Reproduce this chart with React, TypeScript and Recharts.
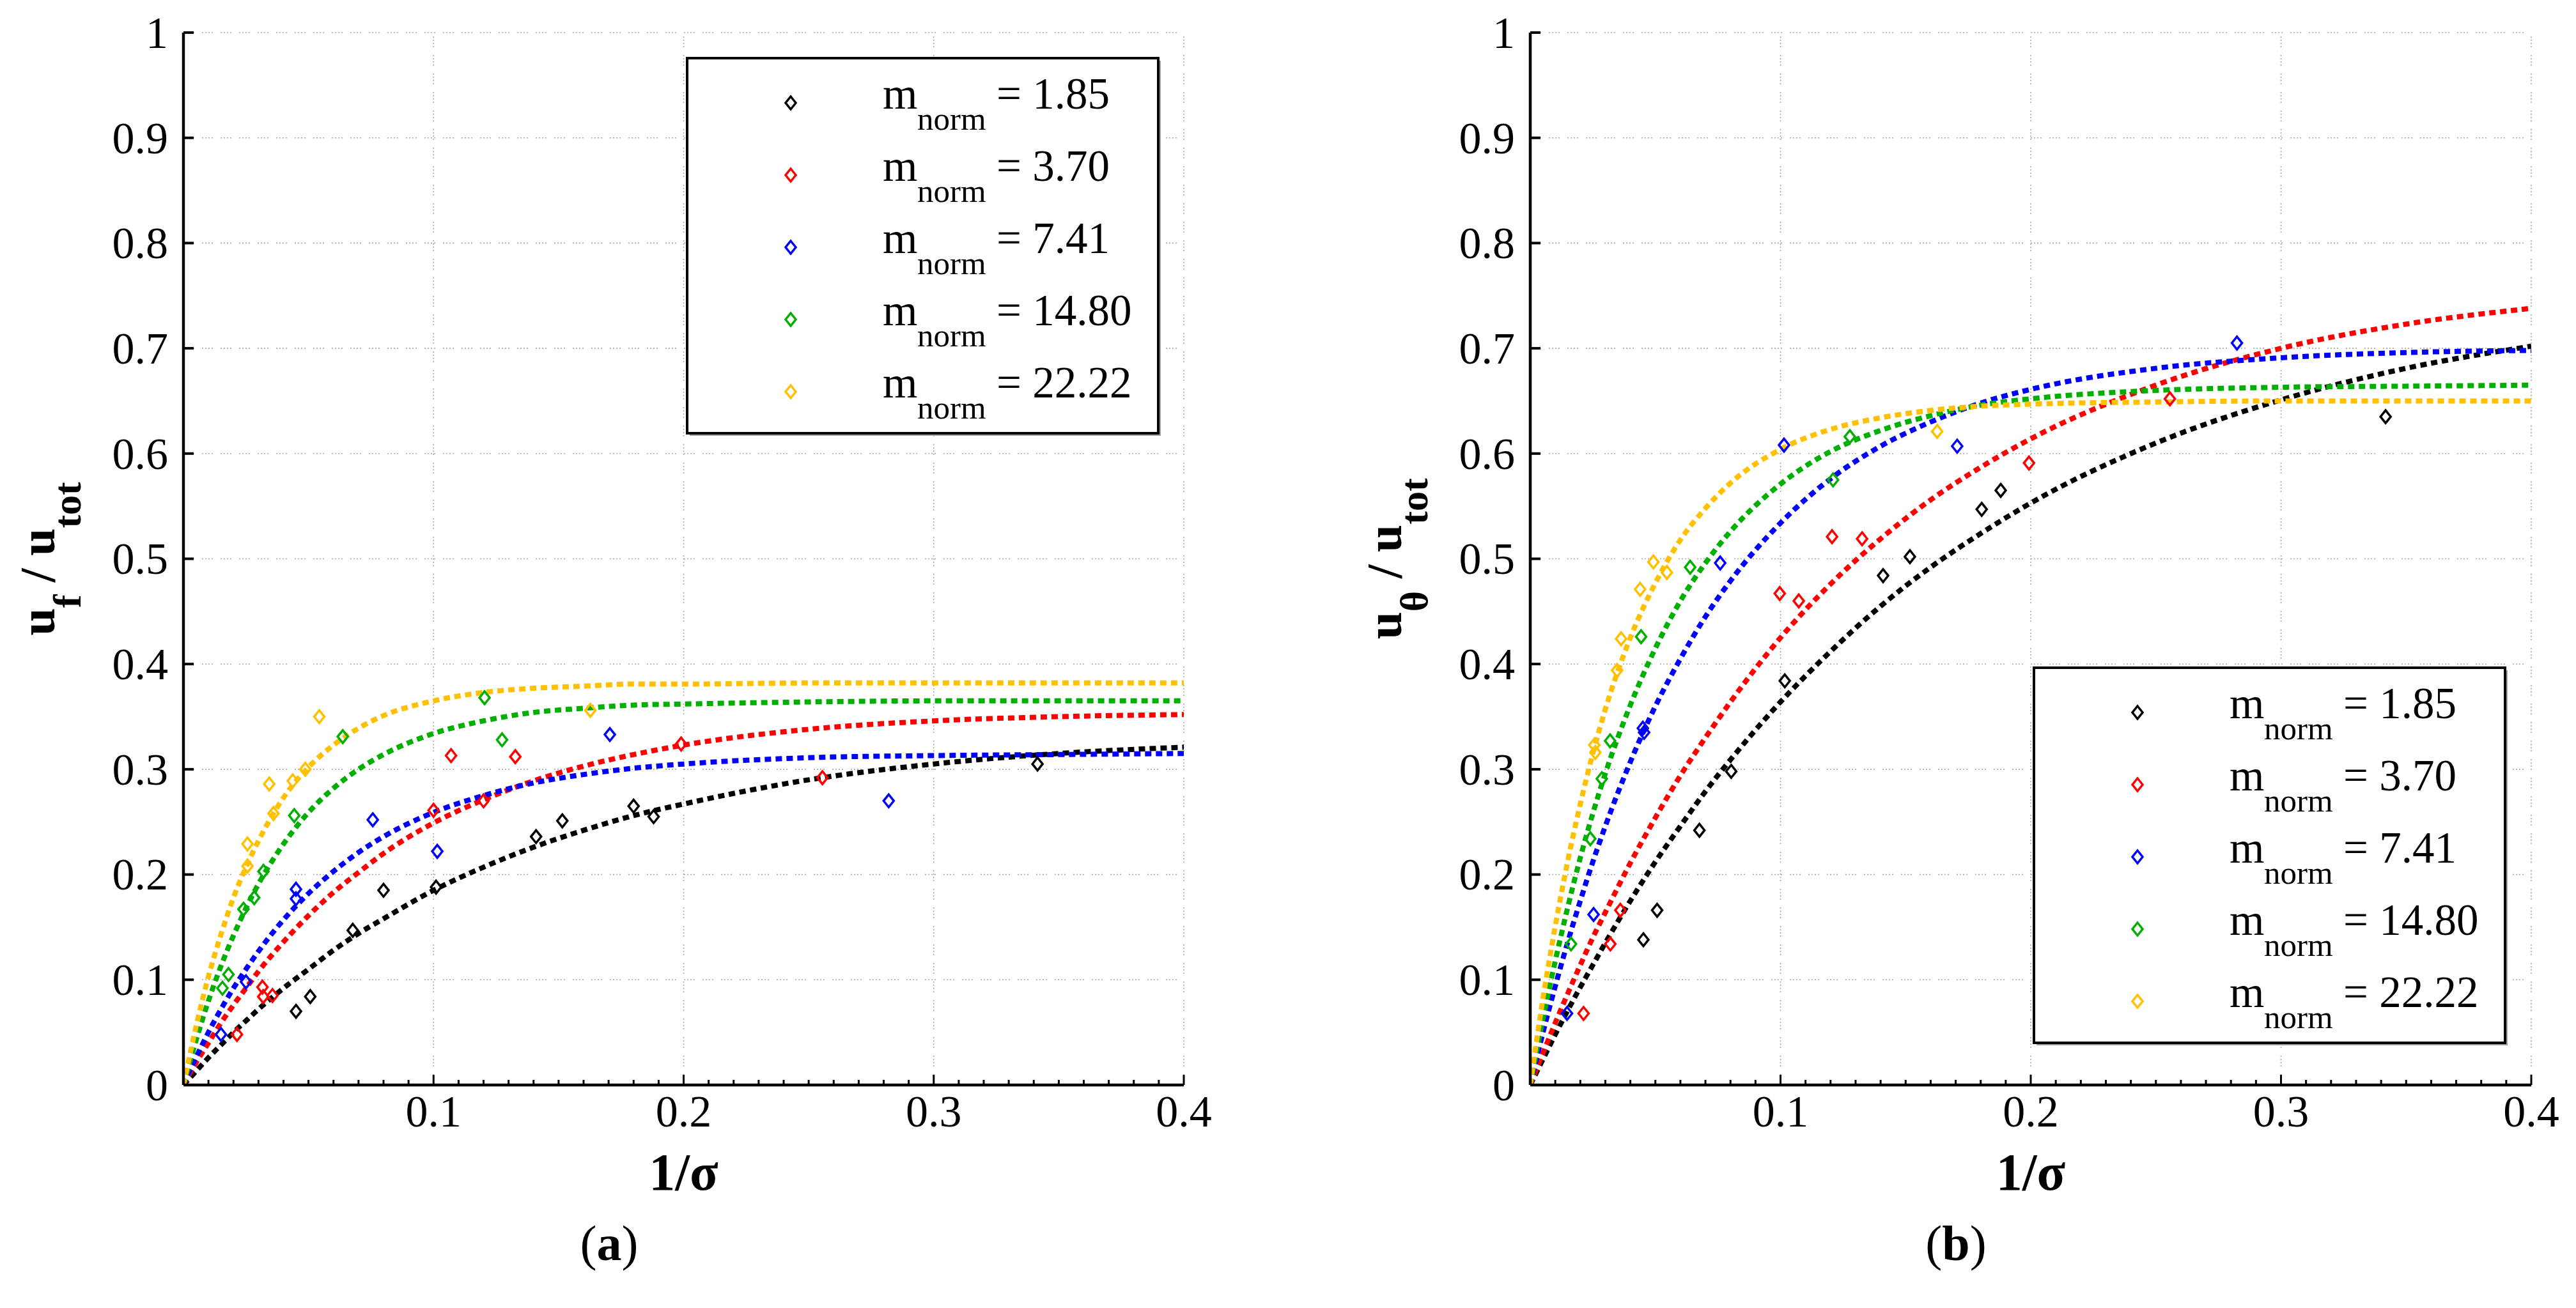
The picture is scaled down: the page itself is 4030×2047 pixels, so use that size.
import React from "react";
import {
  ComposedChart,
  Line,
  Scatter,
  XAxis,
  YAxis,
  CartesianGrid,
  ReferenceLine,
  Legend,
  Label,
} from "recharts";

const FONT = '"Liberation Serif", "Times New Roman", serif';

const massLabels = ["1.85", "3.70", "7.41", "14.80", "22.22"];
const massColors = ["#000000", "#ff0000", "#0000ff", "#00b000", "#ffc000"];

const xMinorTicks = Array.from({ length: 41 }, (_, i) => i / 100);
const xMajorTicks = [0.1, 0.2, 0.3, 0.4];
const xTickLabels = ["0.1", "0.2", "0.3", "0.4"];
const yTicks = [0, 0.1, 0.2, 0.3, 0.4, 0.5, 0.6, 0.7, 0.8, 0.9, 1];
const yTickLabels = ["0", "0.1", "0.2", "0.3", "0.4", "0.5", "0.6", "0.7", "0.8", "0.9", "1"];

const fitX = [0, 0.005, 0.01, 0.015, 0.02, 0.025, 0.03, 0.04, 0.05, 0.06, 0.07, 0.08, 0.1, 0.12, 0.14, 0.16, 0.18, 0.2, 0.25, 0.3, 0.35, 0.4];

// (a) u_f / u_tot fitted curves
const fitA185 = [0, 0.013, 0.026, 0.038, 0.05, 0.061, 0.072, 0.092, 0.11, 0.128, 0.144, 0.158, 0.185, 0.207, 0.226, 0.242, 0.256, 0.267, 0.29, 0.305, 0.315, 0.321];
const fitA370 = [0, 0.021, 0.04, 0.059, 0.076, 0.092, 0.108, 0.136, 0.161, 0.183, 0.202, 0.22, 0.249, 0.271, 0.289, 0.303, 0.314, 0.323, 0.338, 0.346, 0.35, 0.352];
const fitA741 = [0, 0.026, 0.05, 0.072, 0.092, 0.11, 0.127, 0.157, 0.182, 0.203, 0.221, 0.236, 0.259, 0.275, 0.287, 0.295, 0.301, 0.305, 0.311, 0.313, 0.314, 0.315];
const fitA1480 = [0, 0.042, 0.08, 0.113, 0.142, 0.168, 0.191, 0.229, 0.259, 0.282, 0.3, 0.314, 0.334, 0.346, 0.354, 0.358, 0.361, 0.362, 0.364, 0.365, 0.365, 0.365];
const fitA2222 = [0, 0.055, 0.103, 0.143, 0.178, 0.207, 0.232, 0.273, 0.302, 0.323, 0.339, 0.351, 0.365, 0.373, 0.377, 0.379, 0.381, 0.381, 0.382, 0.382, 0.382, 0.382];

// (a) measured points [1/sigma, u_f/u_tot]
const ptsA185 = [[0.045, 0.07], [0.0507, 0.084], [0.0677, 0.147], [0.08, 0.185], [0.101, 0.188], [0.141, 0.236], [0.1515, 0.251], [0.18, 0.265], [0.188, 0.255], [0.3415, 0.305]];
const ptsA370 = [[0.0214, 0.048], [0.0316, 0.093], [0.0319, 0.084], [0.0356, 0.085], [0.1, 0.261], [0.107, 0.313], [0.12, 0.27], [0.1327, 0.312], [0.199, 0.324], [0.2555, 0.292]];
const ptsA741 = [[0.015, 0.048], [0.025, 0.098], [0.045, 0.186], [0.045, 0.177], [0.0757, 0.252], [0.1015, 0.222], [0.1705, 0.333], [0.282, 0.27]];
const ptsA1480 = [[0.0156, 0.092], [0.018, 0.105], [0.024, 0.167], [0.0283, 0.178], [0.032, 0.203], [0.0443, 0.256], [0.0637, 0.331], [0.1204, 0.368], [0.1274, 0.328]];
const ptsA2222 = [[0.0256, 0.208], [0.0256, 0.229], [0.036, 0.258], [0.0343, 0.286], [0.0437, 0.289], [0.0487, 0.3], [0.0543, 0.35], [0.1627, 0.356]];

// (b) u_theta / u_tot fitted curves
const fitB185 = [0, 0.024, 0.048, 0.071, 0.093, 0.114, 0.135, 0.175, 0.212, 0.246, 0.279, 0.309, 0.364, 0.412, 0.455, 0.492, 0.524, 0.553, 0.61, 0.651, 0.681, 0.702];
const fitB370 = [0, 0.03, 0.059, 0.087, 0.114, 0.14, 0.164, 0.211, 0.254, 0.294, 0.33, 0.364, 0.425, 0.476, 0.519, 0.556, 0.587, 0.614, 0.665, 0.7, 0.723, 0.738];
const fitB741 = [0, 0.049, 0.094, 0.136, 0.175, 0.212, 0.246, 0.307, 0.36, 0.405, 0.445, 0.479, 0.534, 0.576, 0.607, 0.63, 0.648, 0.661, 0.681, 0.691, 0.696, 0.698];
const fitB1480 = [0, 0.062, 0.118, 0.169, 0.216, 0.258, 0.296, 0.361, 0.415, 0.46, 0.496, 0.526, 0.571, 0.602, 0.622, 0.636, 0.646, 0.652, 0.66, 0.663, 0.664, 0.665];
const fitB2222 = [0, 0.081, 0.151, 0.213, 0.267, 0.315, 0.357, 0.425, 0.477, 0.518, 0.548, 0.572, 0.604, 0.623, 0.634, 0.641, 0.645, 0.647, 0.649, 0.65, 0.65, 0.65];

// (b) measured points [1/sigma, u_theta/u_tot]
const ptsB185 = [[0.0452, 0.138], [0.0507, 0.166], [0.0676, 0.242], [0.0803, 0.298], [0.1017, 0.384], [0.141, 0.484], [0.1517, 0.502], [0.1804, 0.547], [0.188, 0.565], [0.3418, 0.635]];
const ptsB370 = [[0.0213, 0.068], [0.032, 0.134], [0.036, 0.166], [0.0997, 0.467], [0.1073, 0.46], [0.1206, 0.521], [0.1326, 0.519], [0.1993, 0.591], [0.2556, 0.652]];
const ptsB741 = [[0.0147, 0.068], [0.0253, 0.162], [0.045, 0.339], [0.0455, 0.335], [0.0759, 0.496], [0.1014, 0.608], [0.1706, 0.607], [0.2824, 0.705]];
const ptsB1480 = [[0.0163, 0.134], [0.024, 0.234], [0.0286, 0.291], [0.0319, 0.327], [0.0443, 0.426], [0.0639, 0.492], [0.121, 0.575], [0.1277, 0.616]];
const ptsB2222 = [[0.0256, 0.323], [0.026, 0.316], [0.0347, 0.394], [0.0363, 0.424], [0.0439, 0.471], [0.0492, 0.497], [0.0546, 0.487], [0.1626, 0.621]];

const toCurve = (ys: number[]) => fitX.map((x, i) => ({ x, y: ys[i] }));
const toPoints = (pts: number[][]) => pts.map(([x, y]) => ({ x, y }));

const GRID = { stroke: "#a9a9a9", strokeWidth: 1.6, strokeDasharray: "2 3 2 3 2 3 2 12" };

const diamondPath = (cx: number, cy: number) =>
  `M${cx} ${cy - 10} L${cx + 8} ${cy} L${cx} ${cy + 10} L${cx - 8} ${cy} Z`;

const diamond = (color: string) => (props: any) => {
  const { cx, cy } = props;
  if (cx == null || cy == null) return <g />;
  return <path d={diamondPath(cx, cy)} fill="none" stroke={color} strokeWidth={3.5} />;
};

const renderXTick = (props: any) => {
  const { x, y, payload } = props;
  const v = payload.value;
  const idx = xMajorTicks.findIndex((t) => Math.abs(t - v) < 1e-9);
  const major = idx >= 0;
  return (
    <g>
      <line x1={x} x2={x} y1={y} y2={y - (major ? 16 : 8)} stroke="#000" strokeWidth={3} />
      {major && (
        <text x={x} y={y + 65} textAnchor="middle" fontFamily={FONT} fontSize={70} fill="#000">
          {xTickLabels[idx]}
        </text>
      )}
    </g>
  );
};

const renderYTick = (props: any) => {
  const { x, y, payload } = props;
  const idx = yTicks.findIndex((t) => Math.abs(t - payload.value) < 1e-9);
  return (
    <g>
      <line x1={x} x2={x + 16} y1={y} y2={y} stroke="#000" strokeWidth={4} />
      <text x={x - 24} y={y} dy="0.34em" textAnchor="end" fontFamily={FONT} fontSize={70} fill="#000">
        {yTickLabels[idx]}
      </text>
    </g>
  );
};

const renderLegend = () => (
  <svg width={745} height={595} style={{ display: "block", overflow: "visible" }}>
    <rect x={6} y={6} width={737} height={587} fill="#a0a0a0" />
    <rect x={2} y={2} width={737} height={587} fill="#fff" stroke="#000" strokeWidth={4} />
    {massLabels.map((m, i) => {
      const base = 81 + i * 113;
      return (
        <g key={m}>
          <path d={diamondPath(164, base - 9)} fill="none" stroke={massColors[i]} strokeWidth={3.5} />
          <text x={308} y={base} fontFamily={FONT} fontSize={70} fill="#000">m</text>
          <text x={362} y={base + 33} fontFamily={FONT} fontSize={51} fill="#000">norm</text>
          <text x={486} y={base} fontFamily={FONT} fontSize={69} fill="#000">= {m}</text>
        </g>
      );
    })}
  </svg>
);

type PanelProps = {
  width: number;
  yAxisWidth: number;
  rightMargin: number;
  sub: string;
  letter: string;
  fits: number[][];
  points: number[][][];
  legendLeft: number;
  legendTop: number;
};

function Panel({ width, yAxisWidth, rightMargin, sub, letter, fits, points, legendLeft, legendTop }: PanelProps) {
  const renderXTitle = (props: any) => {
    const vb = props.viewBox;
    return (
      <g>
        <text x={vb.x + vb.width / 2} y={vb.y + 164} textAnchor="middle" fontFamily={FONT} fontWeight="bold" fontSize={82} fill="#000">
          1/σ
        </text>
        <text x={vb.x + 666} y={vb.y + 274} textAnchor="middle" fontFamily={FONT} fontSize={78} fill="#000">
          (<tspan fontWeight="bold">{letter}</tspan>)
        </text>
      </g>
    );
  };

  const renderYTitle = (props: any) => {
    const vb = props.viewBox;
    const bx = vb.x + vb.width - 202;
    const cy = vb.y + vb.height / 2;
    return (
      <text
        x={bx}
        y={cy}
        transform={`rotate(-90 ${bx} ${cy})`}
        textAnchor="middle"
        fontFamily={FONT}
        fontWeight="bold"
        fontSize={78}
        fill="#000"
      >
        <tspan>u</tspan>
        <tspan fontSize={62} dy={41}>{sub}</tspan>
        <tspan dy={-41}> / u</tspan>
        <tspan fontSize={62} dy={41}>tot</tspan>
      </text>
    );
  };

  return (
    <ComposedChart width={width} height={2047} margin={{ top: 51, right: rightMargin, bottom: 0, left: 0 }}>
      <CartesianGrid vertical={false} {...GRID} />
      {xMajorTicks.map((t) => (
        <ReferenceLine key={t} x={t} {...GRID} />
      ))}
      <XAxis
        dataKey="x"
        type="number"
        domain={[0, 0.4]}
        allowDataOverflow
        ticks={xMinorTicks}
        interval={0}
        tickSize={0}
        tickMargin={0}
        tick={renderXTick}
        height={349}
        axisLine={{ stroke: "#000", strokeWidth: 4.5 }}
      >
        <Label content={renderXTitle} />
      </XAxis>
      <YAxis
        dataKey="y"
        type="number"
        domain={[0, 1]}
        allowDataOverflow
        ticks={yTicks}
        interval={0}
        tickSize={0}
        tickMargin={0}
        tick={renderYTick}
        width={yAxisWidth}
        axisLine={{ stroke: "#000", strokeWidth: 4.5 }}
      >
        <Label content={renderYTitle} />
      </YAxis>
      {fits.map((ys, i) => (
        <Line
          key={`fit-${i}`}
          data={toCurve(ys)}
          dataKey="y"
          type="monotone"
          stroke={massColors[i]}
          strokeWidth={8}
          strokeDasharray="10 7"
          dot={false}
          activeDot={false}
          isAnimationActive={false}
        />
      ))}
      {points.map((pts, i) => (
        <Scatter
          key={`pts-${i}`}
          data={toPoints(pts)}
          dataKey="y"
          shape={diamond(massColors[i])}
          isAnimationActive={false}
        />
      ))}
      <Legend
        layout="horizontal"
        verticalAlign="middle"
        align="center"
        content={renderLegend}
        wrapperStyle={{ position: "absolute", left: legendLeft, top: legendTop, width: 745, height: 595 }}
      />
    </ComposedChart>
  );
}

export default function App() {
  return (
    <div style={{ position: "absolute", left: 0, top: 0, width: 4030, height: 2047, background: "#fff" }}>
      <div style={{ position: "absolute", left: 0, top: 0 }}>
        <Panel
          width={2015}
          yAxisWidth={287}
          rightMargin={163}
          sub="f"
          letter="a"
          fits={[fitA185, fitA370, fitA741, fitA1480, fitA2222]}
          points={[ptsA185, ptsA370, ptsA741, ptsA1480, ptsA2222]}
          legendLeft={1073}
          legendTop={89}
        />
      </div>
      <div style={{ position: "absolute", left: 2015, top: 0 }}>
        <Panel
          width={2015}
          yAxisWidth={379}
          rightMargin={70}
          sub="θ"
          letter="b"
          fits={[fitB185, fitB370, fitB741, fitB1480, fitB2222]}
          points={[ptsB185, ptsB370, ptsB741, ptsB1480, ptsB2222]}
          legendLeft={1165}
          legendTop={1043}
        />
      </div>
    </div>
  );
}
